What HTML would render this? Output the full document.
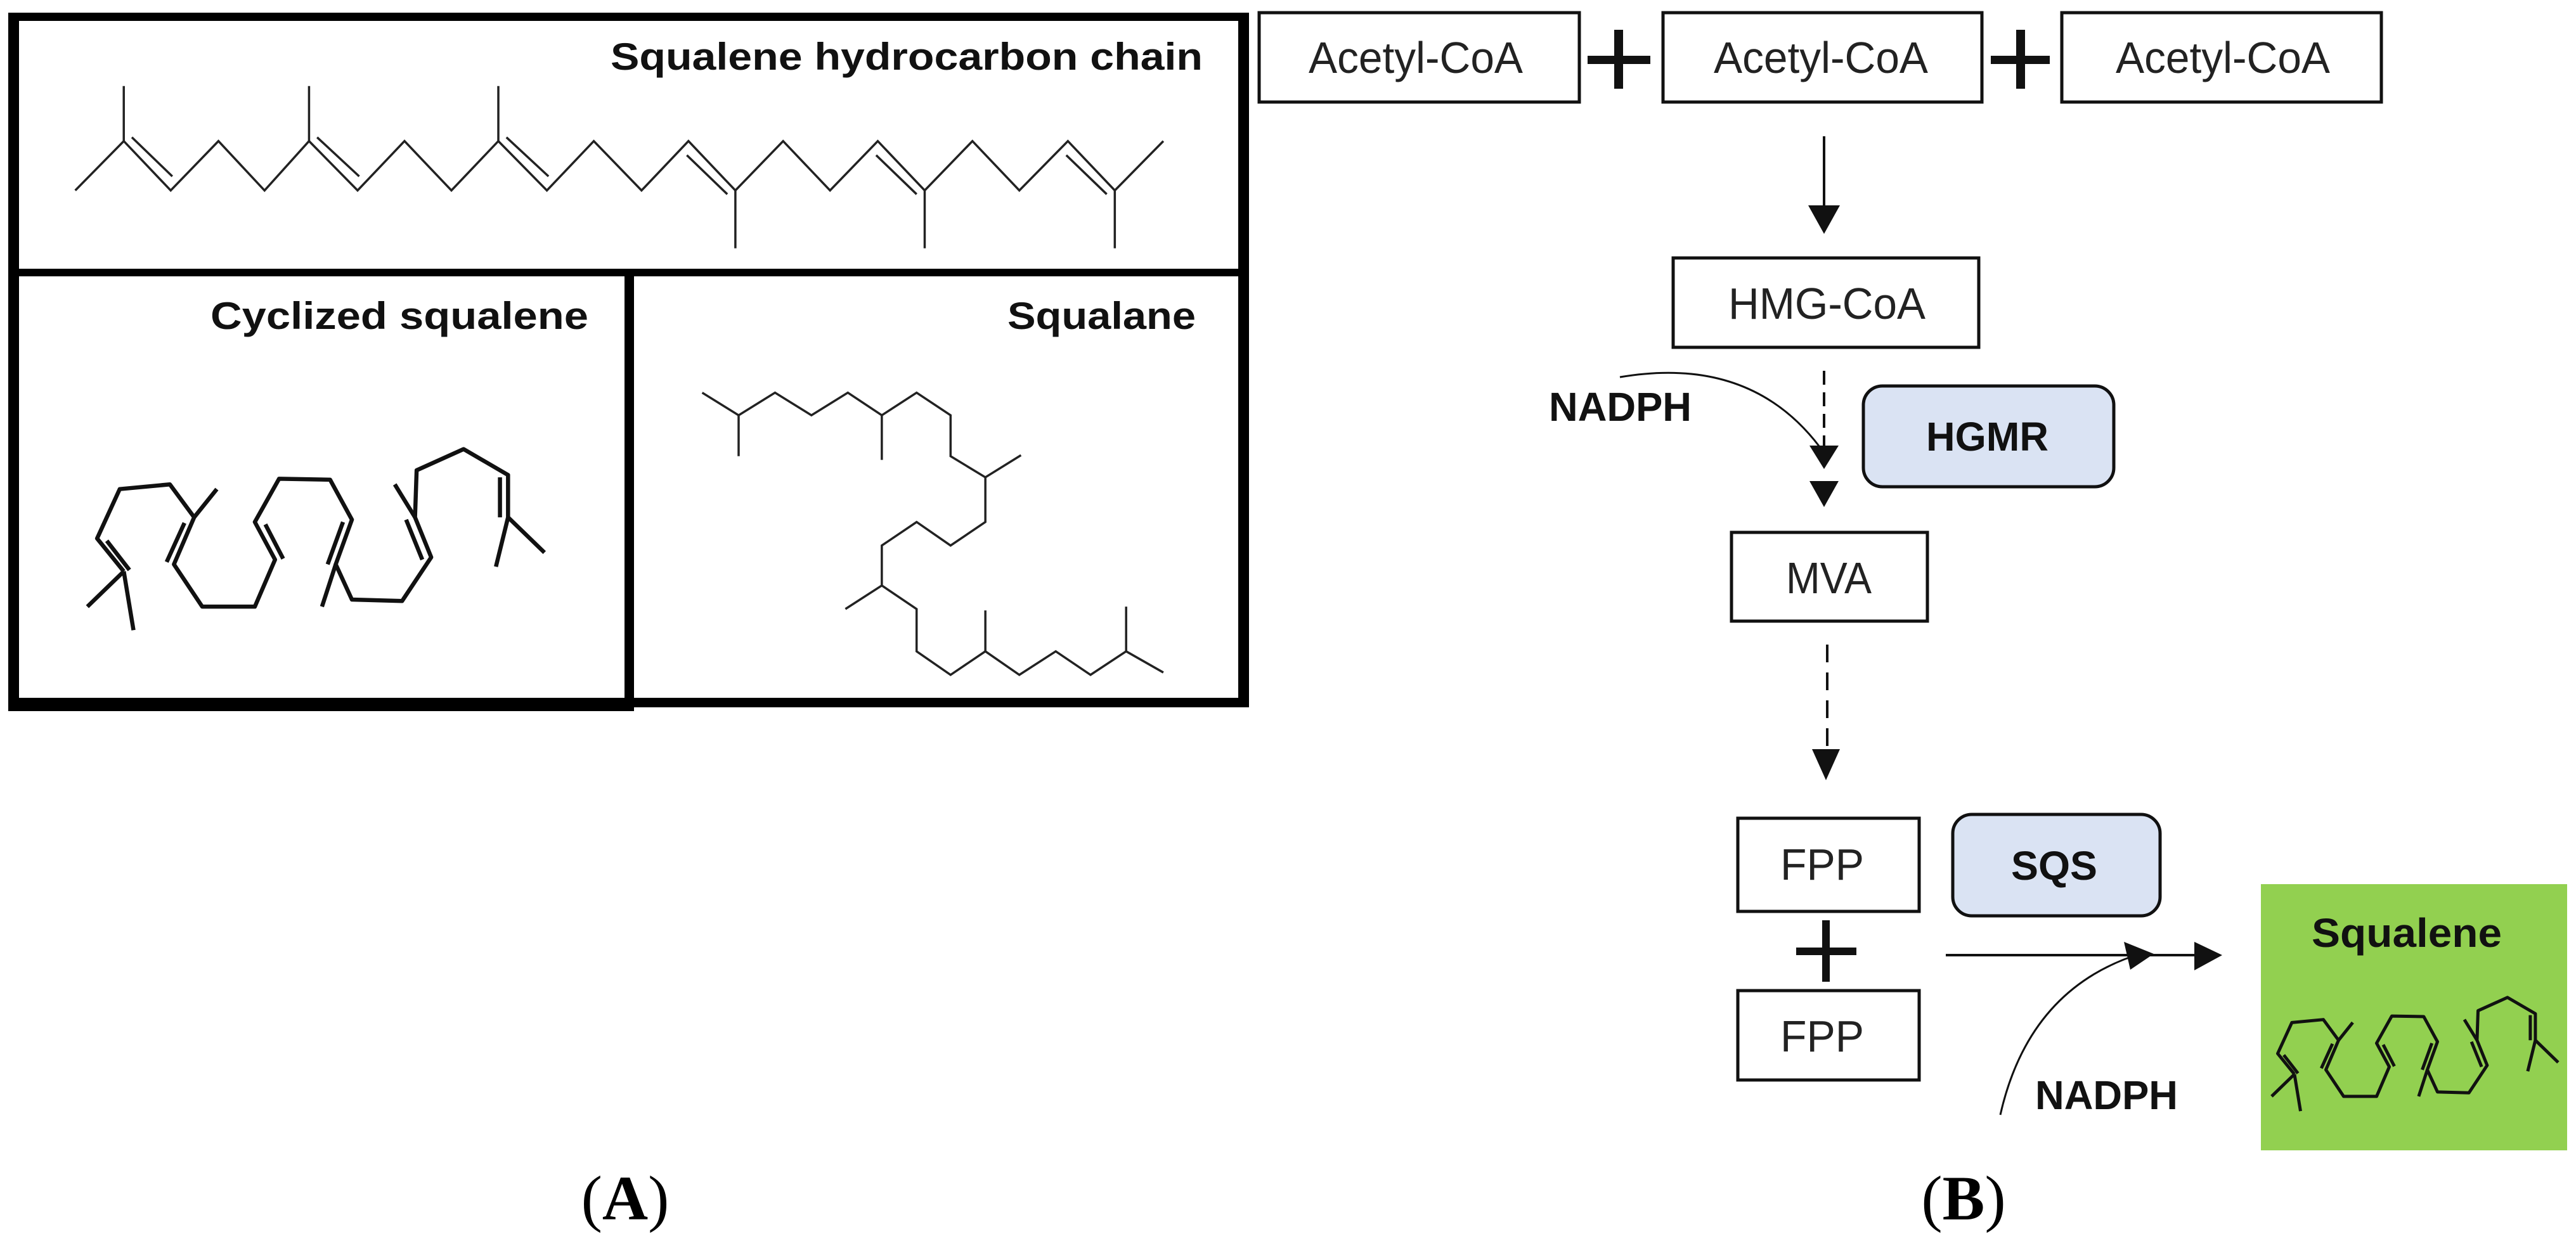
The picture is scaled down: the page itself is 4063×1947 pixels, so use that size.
<!DOCTYPE html>
<html><head><meta charset="utf-8"><style>
html,body{margin:0;padding:0;background:#fff;}
svg{display:block;}
.t{font-family:"Liberation Sans",sans-serif;}
</style></head><body>
<svg width="4063" height="1947" viewBox="0 0 4063 1947" xmlns="http://www.w3.org/2000/svg">
<rect width="4063" height="1947" fill="#fff"/>
<defs>
<g id="cyc" fill="none" stroke="#111" stroke-linejoin="round">
<polyline vector-effect="non-scaling-stroke" points="153,1215 120,1145 148,1040 210,1030 240,1100 215,1200 250,1290 315,1290 340,1190 315,1110 345,1018 408,1020 435,1105 415,1200 435,1275 497,1278 533,1185 513,1100 515,1000 573,955 628,1010 628,1100 613,1205"/>
<line vector-effect="non-scaling-stroke" x1="108" y1="1290" x2="153" y2="1215"/>
<line vector-effect="non-scaling-stroke" x1="153" y1="1215" x2="165" y2="1340"/>
<line vector-effect="non-scaling-stroke" x1="628" y1="1100" x2="673" y2="1175"/>
<line vector-effect="non-scaling-stroke" x1="240" y1="1100" x2="268" y2="1040"/>
<line vector-effect="non-scaling-stroke" x1="415" y1="1200" x2="398" y2="1290"/>
<line vector-effect="non-scaling-stroke" x1="513" y1="1100" x2="488" y2="1030"/>
<line vector-effect="non-scaling-stroke" x1="132" y1="1150" x2="160" y2="1212"/>
<line vector-effect="non-scaling-stroke" x1="228" y1="1112" x2="206" y2="1195"/>
<line vector-effect="non-scaling-stroke" x1="328" y1="1115" x2="350" y2="1188"/>
<line vector-effect="non-scaling-stroke" x1="424" y1="1110" x2="405" y2="1200"/>
<line vector-effect="non-scaling-stroke" x1="502" y1="1105" x2="522" y2="1190"/>
<line vector-effect="non-scaling-stroke" x1="618" y1="1015" x2="618" y2="1100"/>
</g>
</defs>

<!-- Panel A frame -->
<g fill="#000">
<rect x="13" y="20" width="1957" height="13"/>
<rect x="13" y="20" width="17" height="1102"/>
<rect x="1953" y="20" width="17" height="1096"/>
<rect x="13" y="424" width="1957" height="12"/>
<rect x="985" y="424" width="15" height="698"/>
<rect x="13" y="1101" width="987" height="21"/>
<rect x="1000" y="1101" width="970" height="15"/>
</g>

<text class="t" x="963" y="110" font-size="60" font-weight="bold" textLength="934" lengthAdjust="spacingAndGlyphs" fill="#111">Squalene hydrocarbon chain</text>
<text class="t" x="332" y="519" font-size="60" font-weight="bold" textLength="596" lengthAdjust="spacingAndGlyphs" fill="#111">Cyclized  squalene</text>
<text class="t" x="1589" y="519" font-size="60" font-weight="bold" textLength="297" lengthAdjust="spacingAndGlyphs" fill="#111">Squalane</text>

<!-- top chain -->
<g transform="scale(1.276,0.742)" fill="none" stroke="#222">
<g stroke-width="3.5">
<polyline vector-effect="non-scaling-stroke" points="93,405 153,300 211,405 270,300 327,405 382,300 442,405 500,300 558,405 616,300 676,405 734,300 793,405 851,300 909,405 968,300 1026,405 1085,300 1143,405 1202,300 1260,405 1320,300 1378,405 1438,300"/>
<line vector-effect="non-scaling-stroke" x1="153" y1="300" x2="153" y2="183"/>
<line vector-effect="non-scaling-stroke" x1="382" y1="300" x2="382" y2="183"/>
<line vector-effect="non-scaling-stroke" x1="616" y1="300" x2="616" y2="183"/>
<line vector-effect="non-scaling-stroke" x1="909" y1="405" x2="909" y2="528"/>
<line vector-effect="non-scaling-stroke" x1="1143" y1="405" x2="1143" y2="528"/>
<line vector-effect="non-scaling-stroke" x1="1378" y1="405" x2="1378" y2="528"/>
<line vector-effect="non-scaling-stroke" x1="163" y1="292" x2="213" y2="375"/>
<line vector-effect="non-scaling-stroke" x1="392" y1="292" x2="444" y2="375"/>
<line vector-effect="non-scaling-stroke" x1="626" y1="292" x2="678" y2="375"/>
<line vector-effect="non-scaling-stroke" x1="849" y1="330" x2="899" y2="413"/>
<line vector-effect="non-scaling-stroke" x1="1083" y1="330" x2="1133" y2="413"/>
<line vector-effect="non-scaling-stroke" x1="1318" y1="330" x2="1368" y2="413"/>
</g>
<!-- squalane -->
<g stroke-width="3.5">
<polyline vector-effect="non-scaling-stroke" points="868,835 913,883 958,835 1003,883 1048,835 1090,883 1133,835 1175,883 1175,970 1218,1015 1262,968"/>
<polyline vector-effect="non-scaling-stroke" points="1218,1015 1218,1110 1175,1160 1133,1110 1090,1160 1090,1245 1045,1295"/>
<polyline vector-effect="non-scaling-stroke" points="1090,1245 1133,1295 1133,1385 1175,1435 1218,1385 1260,1435 1305,1385 1348,1435 1392,1385 1438,1430"/>
<line vector-effect="non-scaling-stroke" x1="913" y1="883" x2="913" y2="970"/>
<line vector-effect="non-scaling-stroke" x1="1090" y1="883" x2="1090" y2="978"/>
<line vector-effect="non-scaling-stroke" x1="1218" y1="1385" x2="1218" y2="1298"/>
<line vector-effect="non-scaling-stroke" x1="1392" y1="1385" x2="1392" y2="1290"/>
</g>
</g>
<!-- cyclized -->
<g transform="scale(1.276,0.742)" stroke-width="6.5"><use href="#cyc" stroke-width="6.5"/></g>

<text x="986" y="1924" font-family="Liberation Serif,serif" font-size="100" text-anchor="middle" fill="#000">(<tspan font-weight="bold">A</tspan>)</text>

<!-- Panel B -->
<g fill="none" stroke="#111" stroke-width="5">
<rect x="1986" y="20" width="505" height="141"/>
<rect x="2623" y="20" width="503" height="141"/>
<rect x="3252" y="20" width="504" height="141"/>
<rect x="2639" y="407" width="482" height="141"/>
<rect x="2731" y="840" width="309" height="140"/>
<rect x="2741" y="1291" width="286" height="147"/>
<rect x="2741" y="1563" width="286" height="141"/>
</g>
<g fill="#dae3f3" stroke="#111" stroke-width="5">
<rect x="2939" y="609" width="395" height="159" rx="30"/>
<rect x="3080" y="1285" width="327" height="160" rx="30"/>
</g>
<rect x="3566" y="1395" width="483" height="420" fill="#92d050"/>

<!-- plus signs -->
<g fill="#111">
<rect x="2504" y="88" width="99" height="13"/><rect x="2546" y="47" width="14" height="93"/>
<rect x="3140" y="88" width="93" height="13"/><rect x="3180" y="47" width="14" height="93"/>
<rect x="2833" y="1495" width="95" height="12"/><rect x="2874" y="1452" width="12" height="97"/>
</g>

<g class="t" fill="#222" font-size="70">
<text x="2064" y="115" textLength="338" lengthAdjust="spacingAndGlyphs">Acetyl-CoA</text>
<text x="2703" y="115" textLength="338" lengthAdjust="spacingAndGlyphs">Acetyl-CoA</text>
<text x="3337" y="115" textLength="338" lengthAdjust="spacingAndGlyphs">Acetyl-CoA</text>
<text x="2726" y="503" textLength="311" lengthAdjust="spacingAndGlyphs">HMG-CoA</text>
<text x="2817" y="936" textLength="135" lengthAdjust="spacingAndGlyphs">MVA</text>
<text x="2808" y="1388" textLength="132" lengthAdjust="spacingAndGlyphs">FPP</text>
<text x="2808" y="1659" textLength="132" lengthAdjust="spacingAndGlyphs">FPP</text>
</g>
<g class="t" fill="#111" font-size="64" font-weight="bold">
<text x="2443" y="664" textLength="225" lengthAdjust="spacingAndGlyphs">NADPH</text>
<text x="3038" y="711" textLength="193" lengthAdjust="spacingAndGlyphs">HGMR</text>
<text x="3172" y="1388" textLength="136" lengthAdjust="spacingAndGlyphs">SQS</text>
<text x="3210" y="1750" textLength="225" lengthAdjust="spacingAndGlyphs">NADPH</text>
<text x="3646" y="1494" textLength="300" lengthAdjust="spacingAndGlyphs">Squalene</text>
</g>

<!-- arrows -->
<g stroke="#111" stroke-width="4" fill="none">
<line x1="2877" y1="215" x2="2877" y2="330"/>
<line x1="2877" y1="585" x2="2877" y2="705" stroke-dasharray="22,12"/>
<path d="M2555,595 Q2760,560 2870,705" stroke-width="3"/>
<line x1="2882" y1="1017" x2="2882" y2="1190" stroke-dasharray="28,16"/>
<line x1="3069" y1="1507" x2="3465" y2="1507"/>
<path d="M3155,1759 Q3200,1560 3375,1505" stroke-width="3"/>
</g>
<g fill="#111">
<polygon points="2852,324 2902,324 2877,369"/>
<polygon points="2854,703 2900,703 2877,740"/>
<polygon points="2854,759 2900,759 2877,800"/>
<polygon points="2858,1182 2902,1182 2880,1231"/>
<polygon points="3461,1486 3505,1507 3461,1531"/>
<polygon points="3350,1486 3397,1505 3360,1530"/>
</g>

<!-- squalene molecule in green box -->
<g transform="translate(3496.5,1128.7) scale(0.800,0.466)"><use href="#cyc" stroke-width="5"/></g>

<text x="3097" y="1924" font-family="Liberation Serif,serif" font-size="100" text-anchor="middle" fill="#000">(<tspan font-weight="bold">B</tspan>)</text>
</svg>
</body></html>
